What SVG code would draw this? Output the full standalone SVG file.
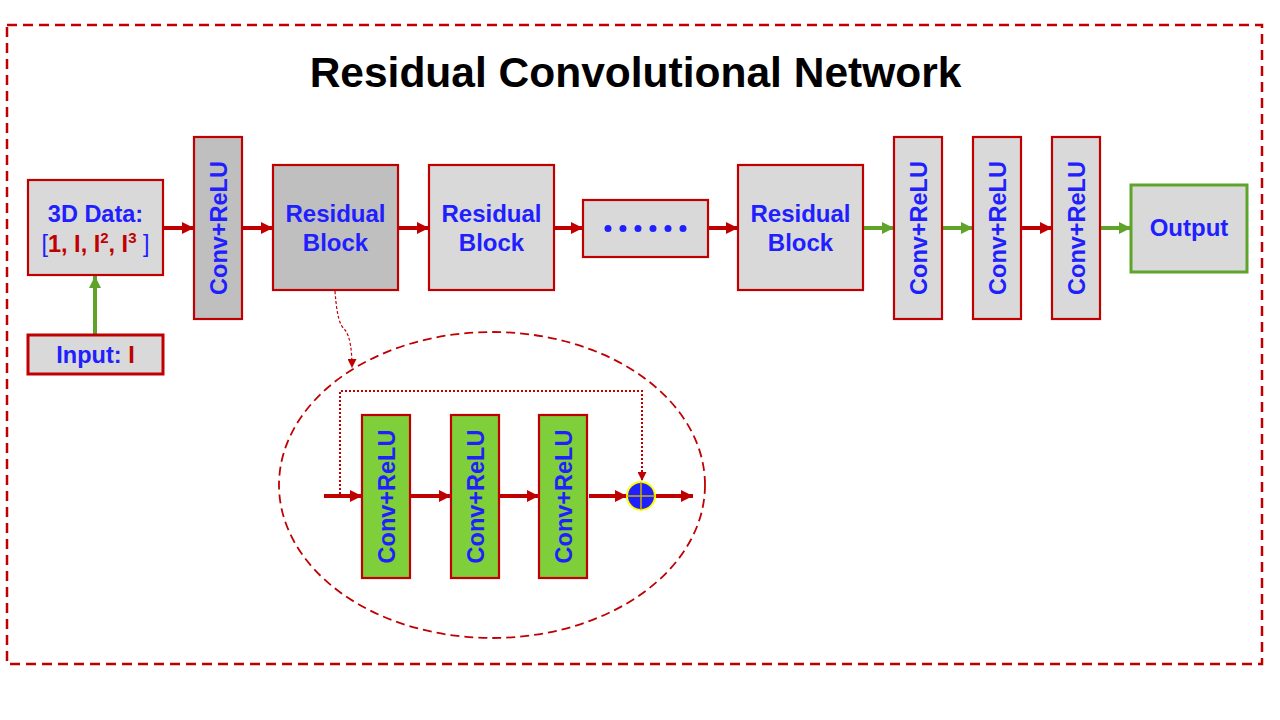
<svg xmlns="http://www.w3.org/2000/svg" width="1280" height="720" viewBox="0 0 1280 720">
  <defs>
    <style>
      .lbl { font-family: "Liberation Sans", Arial, sans-serif; font-weight: bold; fill: #2020ff; }
      .red { fill: #c00000; }
      .box { stroke: #c00000; stroke-width: 2.2; }
      .lite { fill: #d9d9d9; }
      .dark { fill: #bfbfbf; }
      .grn { fill: #7ecf3a; }
      .flow-r { stroke: #c00000; stroke-width: 4; fill: none; marker-end: url(#headR); }
      .flow-g { stroke: #5fa32b; stroke-width: 4; fill: none; marker-end: url(#headG); }
    </style>
    <marker id="headR" viewBox="0 0 10 10" refX="10" refY="5" markerWidth="12" markerHeight="12" markerUnits="userSpaceOnUse" orient="auto">
      <path d="M0,0 L10,5 L0,10 z" fill="#c00000"/>
    </marker>
    <marker id="headG" viewBox="0 0 10 10" refX="10" refY="5" markerWidth="12" markerHeight="12" markerUnits="userSpaceOnUse" orient="auto">
      <path d="M0,0 L10,5 L0,10 z" fill="#5fa32b"/>
    </marker>
    <marker id="headThin" viewBox="0 0 10 10" refX="10" refY="5" markerWidth="9" markerHeight="9" markerUnits="userSpaceOnUse" orient="auto">
      <path d="M0,0 L10,5 L0,10 z" fill="#c00000"/>
    </marker>
  </defs>

  <rect width="1280" height="720" fill="#ffffff"/>

  <!-- outer frame -->
  <rect x="7" y="25" width="1255" height="639" fill="none" stroke="#c00000" stroke-width="2.5" stroke-dasharray="10 6"/>

  <text class="lbl" x="635.5" y="87" text-anchor="middle" font-size="42.5" style="fill:#000000">Residual Convolutional Network</text>

  <!-- connectors -->
  <g id="connectors">
    <path class="flow-g" d="M95,335 V276"/>
    <path class="flow-r" d="M163,228 H194"/>
    <path class="flow-r" d="M242,228 H273"/>
    <path class="flow-r" d="M398,228 H429"/>
    <path class="flow-r" d="M554,228 H583"/>
    <path class="flow-r" d="M708,228 H738"/>
    <path class="flow-g" d="M863,228 H894"/>
    <path class="flow-g" d="M942,228 H973"/>
    <path class="flow-r" d="M1021,228 H1052"/>
    <path class="flow-g" d="M1100,228 H1131"/>
    <!-- link from residual block to its detail view -->
    <path d="M335,291 C337,318 340,325 345,330 C350,336 352,350 352,368" fill="none" stroke="#c00000" stroke-width="1.2" stroke-dasharray="3 2" marker-end="url(#headThin)"/>
    <!-- detail view flow -->
    <path class="flow-r" d="M324,496 H362"/>
    <path class="flow-r" d="M410,496 H451"/>
    <path class="flow-r" d="M499,496 H539"/>
    <path class="flow-r" d="M589,496 H627"/>
    <path class="flow-r" d="M655,496 H693"/>
    <!-- identity shortcut -->
    <path d="M340,494 V391 H642 V481" fill="none" stroke="#c00000" stroke-width="2" stroke-dasharray="2 2" marker-end="url(#headThin)"/>
  </g>

  <!-- detail view outline -->
  <ellipse cx="492" cy="485" rx="213" ry="153" fill="none" stroke="#c00000" stroke-width="1.8" stroke-dasharray="9 5"/>

  <g id="data3d">
    <rect class="box lite" x="28" y="180" width="135" height="95"/>
    <text class="lbl" x="95.5" y="222" text-anchor="middle" font-size="23.5">3D Data:</text>
    <text class="lbl" x="95.5" y="252" text-anchor="middle" font-size="23.5"><tspan font-weight="normal">[</tspan><tspan class="red">1, I, I</tspan><tspan class="red" font-size="15" dy="-9">2</tspan><tspan class="red" dy="9">, I</tspan><tspan class="red" font-size="15" dy="-9">3</tspan><tspan font-weight="normal" dy="9"> ]</tspan></text>
  </g>

  <g id="input">
    <rect class="lite" x="28" y="335" width="135" height="39" stroke="#c00000" stroke-width="3"/>
    <text class="lbl" x="95.5" y="363" text-anchor="middle" font-size="23.5">Input: <tspan class="red">I</tspan></text>
  </g>

  <g id="conv1">
    <rect class="box dark" x="194" y="137" width="48" height="182"/>
    <text class="lbl" transform="translate(226.5,228) rotate(-90)" text-anchor="middle" font-size="23.5">Conv+ReLU</text>
  </g>

  <g id="res1">
    <rect class="box dark" x="273" y="165" width="125" height="125"/>
    <text class="lbl" x="335.5" y="222" text-anchor="middle" font-size="24">Residual</text>
    <text class="lbl" x="335.5" y="251" text-anchor="middle" font-size="24">Block</text>
  </g>

  <g id="res2">
    <rect class="box lite" x="429" y="165" width="125" height="125"/>
    <text class="lbl" x="491.5" y="222" text-anchor="middle" font-size="24">Residual</text>
    <text class="lbl" x="491.5" y="251" text-anchor="middle" font-size="24">Block</text>
  </g>

  <g id="ellipsis">
    <rect class="box lite" x="583" y="200" width="125" height="57"/>
    <g fill="#2020ff">
      <circle cx="608" cy="228.5" r="3.5"/>
      <circle cx="623" cy="228.5" r="3.5"/>
      <circle cx="638" cy="228.5" r="3.5"/>
      <circle cx="653" cy="228.5" r="3.5"/>
      <circle cx="668" cy="228.5" r="3.5"/>
      <circle cx="683" cy="228.5" r="3.5"/>
    </g>
  </g>

  <g id="res3">
    <rect class="box lite" x="738" y="165" width="125" height="125"/>
    <text class="lbl" x="800.5" y="222" text-anchor="middle" font-size="24">Residual</text>
    <text class="lbl" x="800.5" y="251" text-anchor="middle" font-size="24">Block</text>
  </g>

  <g id="conv2">
    <rect class="box lite" x="894" y="137" width="48" height="182"/>
    <text class="lbl" transform="translate(926.5,228) rotate(-90)" text-anchor="middle" font-size="23.5">Conv+ReLU</text>
  </g>

  <g id="conv3">
    <rect class="box lite" x="973" y="137" width="48" height="182"/>
    <text class="lbl" transform="translate(1005.5,228) rotate(-90)" text-anchor="middle" font-size="23.5">Conv+ReLU</text>
  </g>

  <g id="conv4">
    <rect class="box lite" x="1052" y="137" width="48" height="182"/>
    <text class="lbl" transform="translate(1084.5,228) rotate(-90)" text-anchor="middle" font-size="23.5">Conv+ReLU</text>
  </g>

  <g id="output">
    <rect class="lite" x="1131" y="185" width="116" height="87" stroke="#5fa32b" stroke-width="3"/>
    <text class="lbl" x="1189" y="236" text-anchor="middle" font-size="24">Output</text>
  </g>

  <g id="block-conv-a">
    <rect class="box grn" x="362" y="415" width="48" height="163"/>
    <text class="lbl" transform="translate(394.5,496.5) rotate(-90)" text-anchor="middle" font-size="23.5">Conv+ReLU</text>
  </g>

  <g id="block-conv-b">
    <rect class="box grn" x="451" y="415" width="48" height="163"/>
    <text class="lbl" transform="translate(483.5,496.5) rotate(-90)" text-anchor="middle" font-size="23.5">Conv+ReLU</text>
  </g>

  <g id="block-conv-c">
    <rect class="box grn" x="539" y="415" width="48" height="163"/>
    <text class="lbl" transform="translate(571.5,496.5) rotate(-90)" text-anchor="middle" font-size="23.5">Conv+ReLU</text>
  </g>

  <g id="sum">
    <circle cx="641" cy="496" r="14" fill="#2020ff" stroke="#ffff00" stroke-width="2"/>
    <path d="M627,496 H655 M641,482 V510" stroke="#c8b400" stroke-width="1.5"/>
  </g>
</svg>
